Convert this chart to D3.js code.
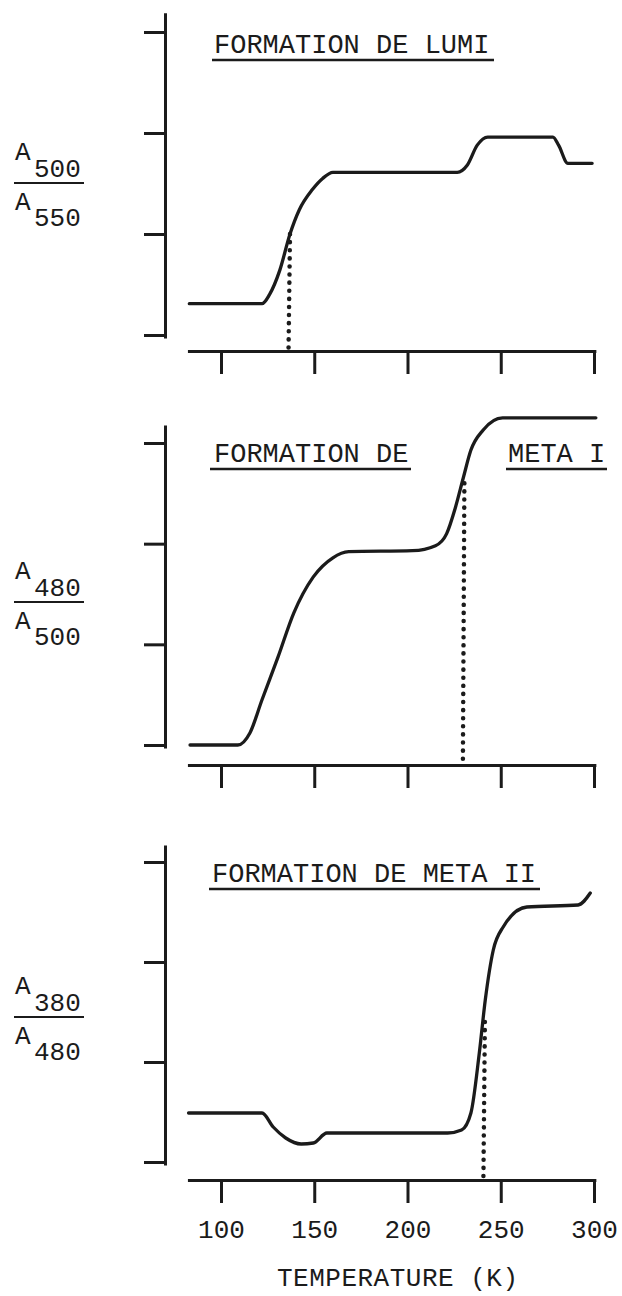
<!DOCTYPE html>
<html>
<head>
<meta charset="utf-8">
<script src="https://cdn.jsdelivr.net/npm/d3@7"></script>
<style>
    body { margin: 0; background: #fff; }
    svg { display: block; }
    text { font-family: "Liberation Mono", "DejaVu Sans Mono", monospace; fill: #1b1b1b; }
</style>
</head>
<body>
<div id="chart"></div>
<script>
// temperature axis (K)
var tempTicks = [100, 150, 200, 250, 300];
var ratioTicks = [0, 1, 2, 3];

// formation de lumi : A500/A550
var lumiT = [83, 122, 126, 131.5, 137, 142, 149, 154.5, 160, 226.7, 232, 237.4, 243, 278, 281, 286, 299];
var lumiV = [0.31, 0.31, 0.40, 0.64, 1.0, 1.24, 1.44, 1.55, 1.61, 1.61, 1.68, 1.88, 1.96, 1.96, 1.88, 1.70, 1.70];
var lumiMark = [137, 1.0];

// formation de meta I : A480/A500
var meta1T = [83.4, 109, 115.5, 122, 130.5, 139, 149.5, 160, 168.5, 202.7, 215, 221, 225.7, 230, 234, 240.6, 251, 301];
var meta1V = [0, 0, 0.12, 0.45, 0.87, 1.31, 1.67, 1.86, 1.92, 1.93, 1.98, 2.1, 2.36, 2.66, 2.93, 3.13, 3.25, 3.25];
var meta1Mark = [230.5, 2.6];

// formation de meta II : A380/A480
var meta2T = [82.6, 122, 128, 134.7, 143, 149.5, 156.8, 162, 221.5, 229, 234, 238.5, 241.7, 246, 251.3, 264, 291.5, 298];
var meta2V = [0.49, 0.49, 0.35, 0.24, 0.18, 0.19, 0.29, 0.29, 0.29, 0.32, 0.49, 1.09, 1.62, 2.12, 2.35, 2.55, 2.57, 2.69];
var meta2Mark = [241.5, 1.4];

var W = 622, H = 1296;
var ink = '#1b1b1b';

var svg = d3.select('#chart').append('svg')
    .attr('width', W)
    .attr('height', H);

var x = d3.scaleLinear().domain([100, 300]).range([221, 594]);

var panels = [
    { T: lumiT, V: lumiV, mark: lumiMark, y0: 335, y3: 32, yTop: 3.19, yBot: -0.03, xAxisY: 351,
      num: '500', den: '550', fracY: 183,
      titles: [{ text: 'FORMATION DE LUMI', x: 214, y: 53, u: [212, 494] }] },
    { T: meta1T, V: meta1V, mark: meta1Mark, y0: 745, y3: 443, yTop: 3.18, yBot: -0.03, xAxisY: 765,
      num: '480', den: '500', fracY: 602,
      titles: [{ text: 'FORMATION DE', x: 214, y: 462, u: [210, 411] },
               { text: 'META I', x: 508, y: 462, u: [506, 607] }] },
    { T: meta2T, V: meta2V, mark: meta2Mark, y0: 1162, y3: 862, yTop: 3.17, yBot: -0.03, xAxisY: 1180,
      num: '380', den: '480', fracY: 1017, labels: true,
      titles: [{ text: 'FORMATION DE META II', x: 212, y: 882, u: [209, 540] }] }
];

panels.forEach(function(p) {
    var y = d3.scaleLinear().domain([0, 3]).range([p.y0, p.y3]);
    var g = svg.append('g');

    // y axis, offset from the x axis
    var yAxis = g.append('g')
        .attr('transform', 'translate(165,0)')
        .call(d3.axisLeft(d3.scaleLinear().domain([p.yBot, p.yTop]).range([y(p.yBot), y(p.yTop)]))
            .tickValues(ratioTicks).tickSize(21).tickSizeOuter(0).tickFormat(''));
    yAxis.selectAll('path, line').attr('stroke', ink).attr('stroke-width', 3);

    // x axis
    var xa = d3.scaleLinear().domain([82, 301]).range([x(82), x(301)]);
    var xAxis = g.append('g')
        .attr('transform', 'translate(0,' + p.xAxisY + ')')
        .call(d3.axisBottom(xa).tickValues(tempTicks).tickSize(23).tickSizeOuter(0)
            .tickPadding(17).tickFormat(p.labels ? d3.format('d') : ''));
    xAxis.selectAll('path, line').attr('stroke', ink).attr('stroke-width', 3);
    xAxis.selectAll('text').attr('fill', ink).style('font-size', '26px');

    // curve
    var pts = d3.zip(p.T, p.V);
    g.append('path')
        .datum(pts)
        .attr('fill', 'none')
        .attr('stroke', ink)
        .attr('stroke-width', 3.3)
        .attr('stroke-linejoin', 'round')
        .attr('stroke-linecap', 'round')
        .attr('d', d3.line()
            .x(function(d) { return x(d[0]); })
            .y(function(d) { return y(d[1]); })
            .curve(d3.curveMonotoneX));

    // dotted drop line to the axis
    g.append('line')
        .attr('x1', x(p.mark[0]))
        .attr('x2', x(p.mark[0]) - 1.5)
        .attr('y1', y(p.mark[1]))
        .attr('y2', p.xAxisY)
        .attr('stroke', ink)
        .attr('stroke-width', 4.5)
        .attr('stroke-linecap', 'round')
        .attr('stroke-dasharray', '0.1 8');

    // titles
    p.titles.forEach(function(t) {
        g.append('text')
            .attr('x', t.x)
            .attr('y', t.y)
            .style('font-size', '27px')
            .text(t.text);
        g.append('line')
            .attr('x1', t.u[0]).attr('x2', t.u[1])
            .attr('y1', t.y + 7).attr('y2', t.y + 7)
            .attr('stroke', ink)
            .attr('stroke-width', 2.5);
    });

    // ratio label
    var lab = g.append('g').attr('transform', 'translate(15,' + p.fracY + ')');
    lab.append('text').attr('x', 0).attr('y', -23).style('font-size', '26px').text('A');
    lab.append('text').attr('x', 19).attr('y', -6).style('font-size', '26px').text(p.num);
    lab.append('line')
        .attr('x1', -1).attr('x2', 69)
        .attr('y1', 0).attr('y2', 0)
        .attr('stroke', ink).attr('stroke-width', 2);
    lab.append('text').attr('x', 0).attr('y', 27).style('font-size', '26px').text('A');
    lab.append('text').attr('x', 19).attr('y', 43).style('font-size', '26px').text(p.den);
});

svg.append('text')
    .attr('x', 277)
    .attr('y', 1286)
    .style('font-size', '26px')
    .attr('textLength', 241)
    .text('TEMPERATURE (K)');
</script>
</body>
</html>
